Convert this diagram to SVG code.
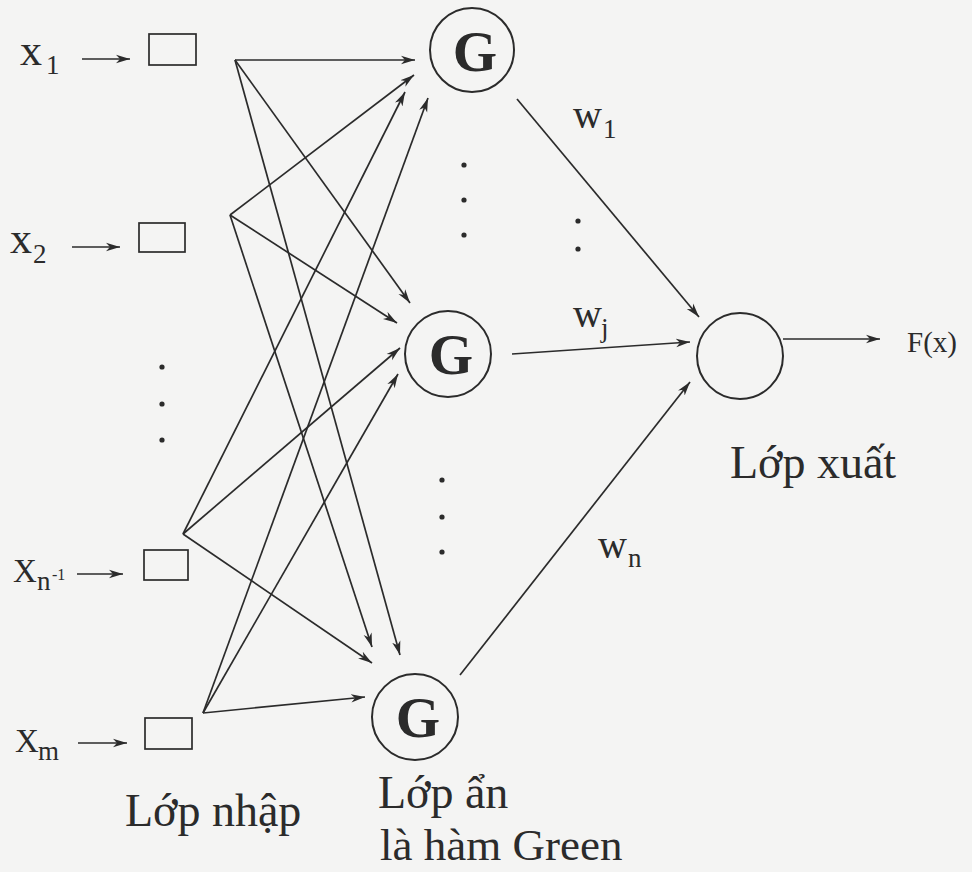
<svg xmlns="http://www.w3.org/2000/svg" width="972" height="872" viewBox="0 0 972 872">
<style>
.t{font-family:"Liberation Serif","Times New Roman",serif;fill:#2b2b2b}
.lbl{font-size:46px}
.var{font-size:44px}
.cap{font-size:33px}
.sub{font-size:27px}
.g{font-family:"Liberation Serif","Times New Roman",serif;font-weight:bold;font-size:57px;fill:#2b2b2b;text-anchor:middle}
.node{fill:none;stroke:#2b2b2b;stroke-width:2}
.box{fill:none;stroke:#2b2b2b;stroke-width:1.7}
.c line{stroke:#2b2b2b;stroke-width:1.7;marker-end:url(#ah)}
.dot{fill:#2b2b2b}
</style>
<defs>
<marker id="ah" markerUnits="userSpaceOnUse" markerWidth="16" markerHeight="12" refX="14" refY="5" orient="auto">
<path d="M0,0.8 L14,5 L0,9.2 L4,5 Z" fill="#2b2b2b"/>
</marker>
</defs>
<rect width="972" height="872" fill="#f4f4f3"/>

<g id="input-x1">
<text class="t var" x="20" y="65">x</text><text class="t sub" x="46" y="74">1</text>
<rect class="box" x="149" y="34" width="47" height="31"/>
</g>
<g id="input-x2">
<text class="t var" x="10" y="253">x</text><text class="t sub" x="33" y="263">2</text>
<rect class="box" x="139" y="223" width="46" height="29"/>
</g>
<g id="input-xn-1">
<text class="t cap" x="13" y="582">X</text><text class="t sub" x="37" y="590">n</text><text class="t" style="font-size:16px" x="52" y="580">-1</text>
<rect class="box" x="144" y="550" width="44" height="30"/>
</g>
<g id="input-xm">
<text class="t cap" x="15" y="752">X</text><text class="t sub" x="38" y="760">m</text>
<rect class="box" x="145" y="718" width="47" height="31"/>
</g>

<g id="hidden-g1">
<circle class="node" cx="472" cy="50" r="42"/>
<text class="g" x="475" y="71">G</text>
</g>
<g id="hidden-g2">
<circle class="node" cx="448" cy="354" r="43"/>
<text class="g" x="451" y="374">G</text>
</g>
<g id="hidden-g3">
<circle class="node" cx="415" cy="717" r="43"/>
<text class="g" x="418" y="737">G</text>
</g>

<g id="output">
<circle class="node" cx="740" cy="356" r="43"/>
</g>

<g id="dots">
<circle class="dot" cx="162" cy="367" r="2.6"/><circle class="dot" cx="162" cy="404" r="2.6"/><circle class="dot" cx="162" cy="440" r="2.6"/>
<circle class="dot" cx="464" cy="165" r="2.6"/><circle class="dot" cx="464" cy="200" r="2.6"/><circle class="dot" cx="464" cy="235" r="2.6"/>
<circle class="dot" cx="442" cy="480" r="2.6"/><circle class="dot" cx="442" cy="517" r="2.6"/><circle class="dot" cx="442" cy="552" r="2.6"/>
<circle class="dot" cx="578" cy="221" r="2.6"/><circle class="dot" cx="578" cy="249" r="2.6"/>
</g>

<g id="connectors" class="c">
<line x1="82" y1="59" x2="130" y2="59"/>
<line x1="72" y1="247" x2="120" y2="247"/>
<line x1="77" y1="574" x2="123" y2="574"/>
<line x1="78" y1="743" x2="127" y2="743"/>

<line x1="235" y1="60" x2="415" y2="60"/>
<line x1="235" y1="60" x2="410" y2="303"/>
<line x1="235" y1="60" x2="400" y2="655"/>

<line x1="230" y1="215" x2="414" y2="75"/>
<line x1="230" y1="215" x2="397" y2="323"/>
<line x1="230" y1="215" x2="372" y2="647"/>

<line x1="183" y1="534" x2="405" y2="92"/>
<line x1="183" y1="534" x2="400" y2="348"/>
<line x1="183" y1="534" x2="372" y2="663"/>

<line x1="203" y1="713" x2="428" y2="98"/>
<line x1="203" y1="713" x2="398" y2="374"/>
<line x1="203" y1="713" x2="365" y2="697"/>

<line x1="517" y1="99" x2="699" y2="317"/>
<line x1="512" y1="354" x2="690" y2="342"/>
<line x1="460" y1="675" x2="690" y2="382"/>
<line x1="783" y1="339" x2="880" y2="339"/>
</g>

<g id="labels">
<text class="t" style="font-size:40px" x="573" y="128">w</text><text class="t sub" x="603" y="138">1</text>
<text class="t" style="font-size:40px" x="573" y="327">w</text><text class="t sub" x="601" y="337">j</text>
<text class="t" style="font-size:40px" x="598" y="558">w</text><text class="t sub" x="628" y="567">n</text>
<text class="t" style="font-size:29px" x="907" y="352">F(x)</text>
<text class="t lbl" x="730" y="478">Lớp xuất</text>
<text class="t lbl" x="125" y="826">Lớp nhập</text>
<text class="t lbl" x="378" y="808">Lớp ẩn</text>
<text class="t" style="font-size:45px" x="380" y="860">là hàm Green</text>
</g>
</svg>
